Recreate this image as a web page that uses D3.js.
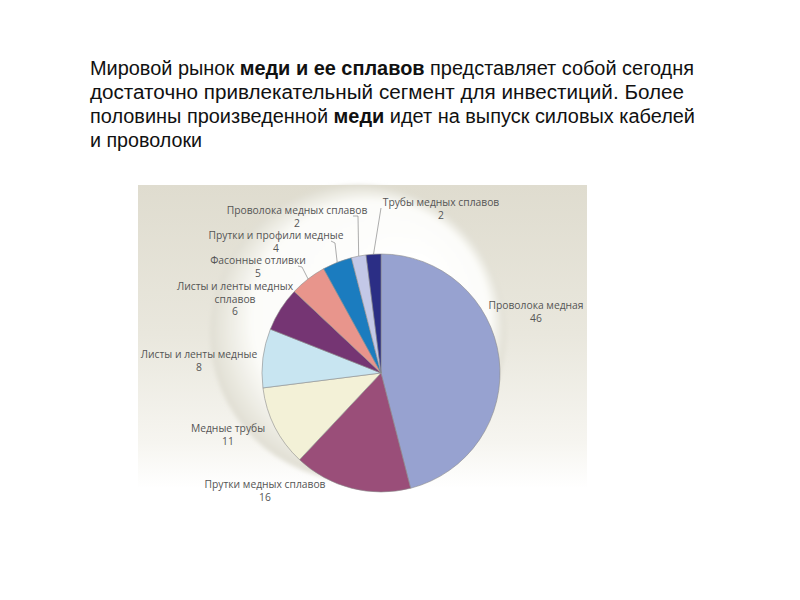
<!DOCTYPE html>
<html>
<head>
<meta charset="utf-8">
<script src="https://cdn.jsdelivr.net/npm/d3@7"></script>
<style>
  body { margin: 0; background: #fff; }
  svg { display: block; }
</style>
</head>
<body>
<svg id="chart" width="800" height="600"></svg>
<script>
// slices, clockwise from 12 o'clock
var names = ['Проволока медная', 'Прутки медных сплавов', 'Медные трубы', 'Листы и ленты медные',
             'Листы и ленты медных сплавов', 'Фасонные отливки', 'Прутки и профили медные',
             'Проволока медных сплавов', 'Трубы медных сплавов'];
var shares = [46, 16, 11, 8, 6, 5, 4, 2, 2];
var colors = ['#97a2d0', '#9a4e79', '#f3f1d7', '#c8e5f1', '#753573', '#e8958c', '#1b7cbf', '#c3c8e7', '#2b2e85'];
// how each label breaks into lines
var labelLines = [['Проволока медная'], ['Прутки медных сплавов'], ['Медные трубы'], ['Листы и ленты медные'],
                  ['Листы и ленты медных', 'сплавов'], ['Фасонные отливки'], ['Прутки и профили медные'],
                  ['Проволока медных сплавов'], ['Трубы медных сплавов']];

var svg = d3.select('#chart');
var defs = svg.append('defs');

// ---- heading text ----
var heading = [
  {parts: [['Мировой рынок ', 400], ['меди и ее сплавов', 700], [' представляет собой сегодня', 400]], w: 604},
  {parts: [['достаточно привлекательный сегмент для инвестиций. Более', 400]], w: 594},
  {parts: [['половины произведенной ', 400], ['меди', 700], [' идет на выпуск силовых кабелей', 400]], w: 605},
  {parts: [['и проволоки', 400]], w: 112}
];
heading.forEach(function(line, i){
  var t = svg.append('text')
    .attr('x', 90).attr('y', 75 + i*24)
    .attr('font-family', '"Liberation Sans", Arial, sans-serif')
    .attr('font-size', 20)
    .attr('fill', '#111')
    .attr('textLength', line.w)
    .attr('lengthAdjust', 'spacingAndGlyphs');
  line.parts.forEach(function(p){
    t.append('tspan').attr('font-weight', p[1]).text(p[0]);
  });
});

// ---- picture panel ----
var panel = {x: 138, y: 185, w: 449, h: 330};
var bg = defs.append('linearGradient').attr('id', 'bg').attr('x1', 0).attr('y1', 0).attr('x2', 0).attr('y2', 1);
bg.append('stop').attr('offset', 0).attr('stop-color', '#dfdccf');
bg.append('stop').attr('offset', 0.45).attr('stop-color', '#e9e7dd');
bg.append('stop').attr('offset', 0.78).attr('stop-color', '#f6f5f0');
bg.append('stop').attr('offset', 0.92).attr('stop-color', '#ffffff');
svg.append('rect')
  .attr('x', panel.x).attr('y', panel.y).attr('width', panel.w).attr('height', panel.h)
  .attr('fill', 'url(#bg)');

// soft sphere behind the pie, shaded towards lower left
var sph = defs.append('radialGradient').attr('id', 'sphere')
  .attr('cx', '50%').attr('cy', '50%').attr('r', '50%').attr('fx', '72%').attr('fy', '28%');
sph.append('stop').attr('offset', 0).attr('stop-color', '#ffffff');
sph.append('stop').attr('offset', 0.8).attr('stop-color', '#fcfcf9');
sph.append('stop').attr('offset', 0.9).attr('stop-color', '#eeede5');
sph.append('stop').attr('offset', 1).attr('stop-color', '#e0ded3');
defs.append('filter').attr('id', 'soft').append('feGaussianBlur').attr('stdDeviation', 2);
svg.append('circle')
  .attr('cx', 358).attr('cy', 333).attr('r', 148)
  .attr('fill', 'url(#sphere)')
  .attr('filter', 'url(#soft)');

// ---- pie ----
var cx = 381, cy = 373, radius = 119;
var g = svg.append('g').attr('transform', 'translate(' + cx + ',' + cy + ')');

var pie = d3.pie().sort(null).value(function(d){ return d; });
var arcs = pie(shares);
var arc = d3.arc().innerRadius(0).outerRadius(radius);

g.selectAll('path.slice')
  .data(arcs)
  .enter().append('path')
  .attr('class', 'slice')
  .attr('d', arc)
  .attr('fill', function(d, i){ return colors[i]; })
  .attr('stroke', '#8c8c8c')
  .attr('stroke-width', 0.6);

// label placement relative to pie centre (centre x, first baseline)
var labelAt = [[155, -64], [-116, 115], [-153, 59], [-182, -15], [-146, -83], [-123, -109],
               [-105, -134], [-84, -159], [60, -167]];
// leader lines: start relative to label, then to slice rim
var leaderFrom = {5: [[-83, -107], [-79, -106]], 6: [[-50, -132], [-46, -130]],
                  7: [[-28, -157], [-23, -157]], 8: [[0, -165]]};

var mid = function(d){ return (d.startAngle + d.endAngle) / 2; };
Object.keys(leaderFrom).forEach(function(k){
  var d = arcs[k];
  var a = mid(d);
  var pts = leaderFrom[k].concat([[radius*Math.sin(a), -radius*Math.cos(a)]]);
  g.append('path')
    .attr('d', d3.line()(pts))
    .attr('fill', 'none')
    .attr('stroke', '#8a8a8a')
    .attr('stroke-width', 0.7);
});

var labels = g.selectAll('text.lbl')
  .data(arcs)
  .enter().append('text')
  .attr('class', 'lbl')
  .attr('text-anchor', 'middle')
  .attr('font-family', '"Open Sans", sans-serif')
  .attr('font-size', 10.3)
  .attr('fill', '#555')
  .attr('transform', function(d, i){ return 'translate(' + labelAt[i][0] + ',' + labelAt[i][1] + ')'; });

labels.each(function(d, i){
  var t = d3.select(this);
  var rows = labelLines[i].concat([String(shares[i])]);
  rows.forEach(function(r, j){
    t.append('tspan').attr('x', 0).attr('y', j*12.5).text(r);
  });
});
</script>
</body>
</html>
